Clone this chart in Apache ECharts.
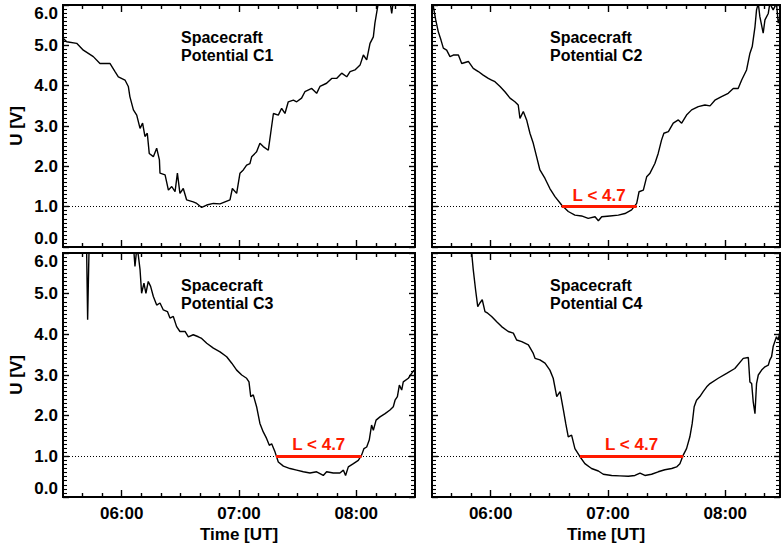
<!DOCTYPE html>
<html>
<head>
<meta charset="utf-8">
<script src="https://cdn.jsdelivr.net/npm/echarts@6/dist/echarts.min.js"></script>
<style>html,body{margin:0;padding:0;background:#fff;}#c{width:781px;height:548px;}</style>
</head>
<body>
<div id="c"></div>
<script>
// ---- data (time in minutes of day, UT; potential in V) ----
const panelNames = ['Potential C1', 'Potential C2', 'Potential C3', 'Potential C4'];
const xLabelValues = [360, 420, 480];
const xMinorTickValues = [340, 350, 370, 380, 390, 400, 410, 430, 440, 450, 460, 470, 490, 500];
const thresholdLabel = 'L < 4.7';

const timesC1 = [330.2,331.9,337.0,340.4,345.5,348.9,354.0,356.6,358.3,361.7,363.4,364.2,366.0,367.7,369.4,370.7,371.9,373.1,374.1,376.2,377.9,379.3,379.6,382.2,383.9,385.6,387.3,388.5,389.8,391.5,393.2,396.6,398.4,400.9,403.5,406.9,410.3,415.4,416.6,418.8,420.5,422.2,423.9,425.6,426.5,429.0,430.7,432.4,435.0,436.2,437.6,440.1,441.8,443.5,445.2,447.8,449.5,452.0,453.7,457.2,459.7,461.4,464.8,467.4,469.9,472.5,475.1,476.8,479.3,481.9,483.6,485.3,487.0,488.7,489.5,491.2,493.0,497.2,498.1,498.9,504.0,509.5];
const valuesC1 = [5.17,5.09,5.05,4.88,4.72,4.55,4.55,4.35,4.22,4.14,3.98,3.73,3.40,3.27,2.94,3.07,2.74,2.82,2.32,2.24,2.45,2.16,1.83,1.79,1.41,1.50,1.37,1.83,1.33,1.45,1.17,1.12,1.08,0.98,1.04,1.08,1.07,1.17,1.45,1.33,1.83,1.91,2.03,2.07,2.24,2.36,2.57,2.49,2.40,2.82,3.31,3.27,3.44,3.31,3.60,3.64,3.60,3.69,3.85,3.93,3.81,3.98,4.06,4.18,4.18,4.31,4.22,4.35,4.39,4.51,4.76,4.64,5.05,5.21,5.55,6.04,6.30,6.10,5.79,6.10,6.40,6.50];

const timesC2 = [330.0,330.7,331.9,333.2,334.6,335.8,337.5,339.2,340.9,343.5,345.2,348.6,351.1,353.7,356.2,358.8,360.5,362.2,364.8,367.3,369.9,372.4,374.1,375.0,376.7,378.4,380.1,381.8,383.5,385.2,387.8,390.3,392.9,396.3,399.7,403.1,406.5,409.9,413.4,415.1,416.8,421.0,425.3,428.7,432.1,434.7,435.9,438.1,439.8,441.5,444.0,445.7,447.4,448.6,450.9,453.4,456.0,457.7,460.2,462.8,466.2,469.6,472.2,474.7,478.1,481.5,484.1,486.6,488.4,490.9,492.6,493.8,495.2,496.0,496.9,497.7,499.4,500.3,502.0,502.8,504.5,506.2,507.1,508.1];
const valuesC2 = [6.20,5.96,5.63,5.34,5.13,4.93,4.88,4.72,4.76,4.76,4.55,4.60,4.43,4.35,4.26,4.18,4.14,4.10,3.98,3.85,3.69,3.60,3.52,3.19,3.36,3.15,2.82,2.57,2.24,1.91,1.70,1.45,1.25,1.04,0.88,0.79,0.77,0.71,0.75,0.65,0.75,0.77,0.79,0.83,0.92,1.08,1.37,1.41,1.74,1.83,2.07,2.32,2.65,2.82,2.86,3.07,3.15,3.07,3.27,3.40,3.48,3.52,3.50,3.64,3.73,3.81,3.93,3.93,4.14,4.39,4.80,4.97,5.46,5.88,6.04,5.71,5.30,5.63,5.79,6.04,5.88,6.04,5.55,5.71];

const timesC3 = [330.0,341.8,342.1,342.6,343.1,343.5,365.5,366.0,366.8,367.7,368.5,369.4,370.2,371.4,372.4,373.6,374.8,376.2,377.9,379.6,381.3,383.4,384.7,386.4,388.1,389.8,392.4,394.1,396.6,399.2,400.9,403.5,406.9,410.3,413.7,416.3,418.8,421.4,423.9,425.1,426.0,427.3,429.0,430.7,432.4,434.1,435.5,436.7,438.4,440.1,442.7,446.1,449.5,452.9,456.3,459.7,463.1,464.8,468.2,471.6,473.4,474.5,475.9,478.5,481.0,482.7,483.9,485.3,486.6,487.8,488.7,490.1,492.1,494.7,497.2,498.9,499.8,501.0,502.0,503.2,504.0,506.6,508.3,509.5];
const valuesC3 = [6.50,6.50,6.00,4.36,5.59,6.50,6.50,6.20,5.67,6.10,5.95,5.59,5.01,5.26,5.01,5.30,5.18,4.93,4.72,4.77,4.60,4.56,4.40,4.44,4.19,4.07,4.07,3.94,3.99,3.94,3.90,3.78,3.66,3.57,3.45,3.29,3.12,3.00,2.92,2.83,2.47,2.51,2.22,1.81,1.60,1.44,1.27,1.31,1.11,0.86,0.76,0.70,0.66,0.62,0.59,0.62,0.53,0.62,0.59,0.59,0.66,0.53,0.74,0.82,0.90,1.03,1.19,1.23,1.40,1.77,1.64,1.89,1.97,2.05,2.14,2.22,2.38,2.47,2.75,2.63,2.83,2.92,3.04,3.12];

const timesC4 = [330.0,349.8,350.3,351.1,352.3,353.4,354.5,355.7,357.1,358.5,360.5,363.1,365.6,369.0,371.6,373.3,375.9,379.3,381.8,382.7,385.2,387.8,390.3,392.0,393.8,395.5,397.2,398.4,399.7,401.4,403.1,405.7,408.2,411.6,415.1,417.6,421.9,426.1,430.4,433.8,436.4,438.9,442.3,445.7,449.1,452.6,455.1,456.8,458.5,460.2,461.9,463.1,464.1,465.3,467.0,468.7,470.5,472.2,476.4,480.7,484.9,489.2,491.8,492.6,493.5,494.3,495.2,496.0,496.9,498.6,500.3,502.0,502.8,503.7,504.5,506.2,507.1,508.1];
const valuesC4 = [6.50,6.50,6.00,5.59,5.09,4.68,4.77,4.85,4.56,4.52,4.44,4.31,4.19,4.07,4.03,3.86,3.82,3.74,3.53,3.41,3.37,3.29,3.12,2.92,2.47,2.59,2.14,1.81,1.48,1.52,1.19,0.99,0.82,0.70,0.64,0.56,0.53,0.52,0.51,0.53,0.59,0.53,0.56,0.62,0.67,0.70,0.74,0.82,1.03,1.19,1.48,1.81,2.22,2.38,2.47,2.59,2.71,2.79,2.92,3.04,3.16,3.41,3.43,2.83,2.79,2.34,2.05,2.79,3.00,3.12,3.20,3.24,3.37,3.45,3.70,3.94,3.86,4.11];

// red L < 4.7 intervals [start, end] (minutes), null where absent
const redStart = [null, 396.3, 438.9, 405.7];
const redEnd   = [null, 434.7, 482.7, 458.5];
const thresholdValue = 1.0;

// ---- layout ----
const FONT = 'Liberation Sans';
const grids = [
  {left: 63, top: 5, width: 352, height: 242},
  {left: 432, top: 5, width: 348, height: 242},
  {left: 63, top: 253, width: 352, height: 244},
  {left: 432, top: 253, width: 348, height: 244}
];
const xMax = [510, 508, 510, 508];
const allTimes = [timesC1, timesC2, timesC3, timesC4];
const allValues = [valuesC1, valuesC2, valuesC3, valuesC4];

function pad(n){ return (n < 10 ? '0' : '') + n; }
function fmtTime(v){ const h = Math.floor(v / 60), m = Math.round(v - h * 60); return pad(h) + ':' + pad(m); }

const xAxes = [], yAxes = [], series = [], graphics = [];
for (let i = 0; i < 4; i++) {
  const isBottom = i >= 2, isLeft = (i % 2) === 0;
  const maj = {show: true, inside: true, length: 7, customValues: xLabelValues.slice(), lineStyle: {color: '#000', width: 1.4}};
  const mino = {show: true, inside: true, length: 4, customValues: xMinorTickValues.slice(), lineStyle: {color: '#000', width: 1.4}};
  function bx(o){ return Object.assign({type: 'value', gridIndex: i, min: 330, max: xMax[i], splitLine: {show: false},
    axisLine: {show: true, onZero: false, lineStyle: {color: '#000', width: 2}}}, o); }
  function by(o){ return Object.assign({type: 'value', gridIndex: i, min: 0, max: 6, interval: 1, splitLine: {show: false},
    axisLine: {show: true, onZero: false, lineStyle: {color: '#000', width: 2}},
    axisTick: {show: true, inside: true, length: 6, lineStyle: {color: '#000', width: 1.4}},
    minorTick: {show: true, splitNumber: 10, length: 4, lineStyle: {color: '#000', width: 1.1}}}, o); }
  const bottom = bx({position: 'bottom', axisTick: maj,
    axisLabel: {show: isBottom, customValues: xLabelValues.slice(), formatter: fmtTime, margin: 8,
      color: '#000', fontFamily: FONT, fontWeight: 'bold', fontSize: 17}});
  if (isBottom) {
    bottom.name = 'Time [UT]'; bottom.nameLocation = 'middle'; bottom.nameGap = 29;
    bottom.nameTextStyle = {color: '#000', fontFamily: FONT, fontWeight: 'bold', fontSize: 17};
  }
  xAxes.push(bottom);
  xAxes.push(bx({position: 'bottom', axisTick: mino, axisLabel: {show: false}}));
  xAxes.push(bx({position: 'top', axisTick: maj, axisLabel: {show: false}}));
  xAxes.push(bx({position: 'top', axisTick: mino, axisLabel: {show: false}}));
  const left = by({position: 'left',
    axisLabel: {show: isLeft, formatter: v => v.toFixed(1), margin: 5,
      color: '#000', fontFamily: FONT, fontWeight: 'bold', fontSize: 17,
      verticalAlignMinLabel: 'bottom', verticalAlignMaxLabel: 'top'}});
  if (isLeft) {
    left.name = 'U [V]'; left.nameLocation = 'middle'; left.nameGap = 38;
    left.nameTextStyle = {color: '#000', fontFamily: FONT, fontWeight: 'bold', fontSize: 17};
  }
  yAxes.push(left);
  yAxes.push(by({position: 'right', axisLabel: {show: false}}));

  const mlData = [{yAxis: thresholdValue, lineStyle: {color: '#000', width: 1, type: [1, 2]}, label: {show: false}}];
  if (redStart[i] !== null) {
    mlData.push([
      {coord: [redStart[i], thresholdValue], lineStyle: {color: '#ff1a00', width: 3, type: 'solid'},
        label: {show: true, position: 'middle', formatter: thresholdLabel, distance: 3,
          color: '#ff1a00', fontFamily: FONT, fontWeight: 'bold', fontSize: 17}},
      {coord: [redEnd[i], thresholdValue]}
    ]);
  }
  series.push({
    type: 'line', xAxisIndex: i * 4, yAxisIndex: i * 2, showSymbol: false, symbol: 'none',
    lineStyle: {color: '#000', width: 1.4},
    data: allTimes[i].map((t, k) => [t, allValues[i][k]]),
    markLine: {silent: true, symbol: 'none', data: mlData}
  });
  graphics.push({
    type: 'text', left: grids[i].left + 118, top: grids[i].top + 24, z: 10,
    style: {text: 'Spacecraft', fill: '#000', font: 'bold 16px "' + FONT + '"', lineHeight: 16}
  });
  graphics.push({
    type: 'text', left: grids[i].left + 118, top: grids[i].top + 42, z: 10,
    style: {text: panelNames[i], fill: '#000', font: 'bold 16px "' + FONT + '"', lineHeight: 16}
  });
}

const chart = echarts.init(document.getElementById('c'), null, {renderer: 'svg'});
chart.setOption({
  animation: false,
  grid: grids,
  xAxis: xAxes,
  yAxis: yAxes,
  series: series,
  graphic: graphics
});
</script>
</body>
</html>
